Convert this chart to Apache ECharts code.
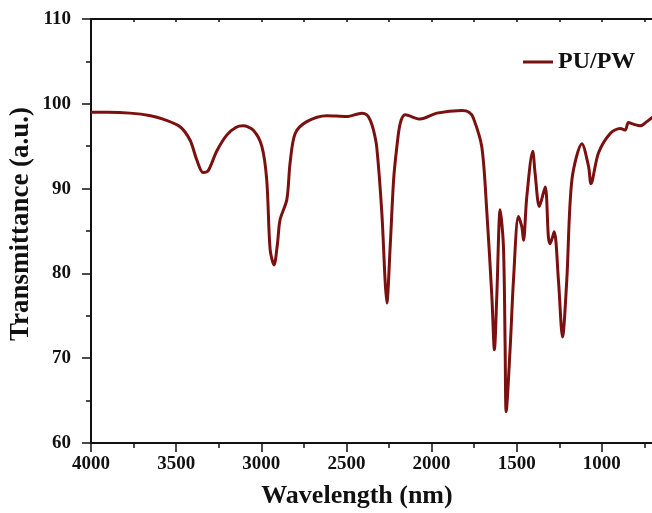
<!DOCTYPE html>
<html>
<head>
<meta charset="utf-8">
<script src="https://cdn.jsdelivr.net/npm/echarts@6/dist/echarts.min.js"></script>
<style>
  html, body { margin: 0; padding: 0; background: #fff; }
  #ftir { width: 652px; height: 513px; }
</style>
</head>
<body>
<div id="ftir"></div>
<script>
// FTIR spectrum
const wavenumber = [
  4000, 3900, 3771, 3650, 3577, 3477, 3418, 3379, 3342, 3312,
  3262, 3203, 3150, 3107, 3048, 2997, 2968, 2948, 2925, 2905,
  2890, 2850, 2831, 2801, 2733, 2616, 2498, 2410, 2380, 2361,
  2341, 2322, 2292, 2273, 2263, 2243, 2223, 2204, 2184, 2155,
  2067, 1969, 1822, 1780, 1754, 1705, 1675, 1646, 1631, 1617,
  1597, 1578, 1568, 1562, 1538, 1519, 1490, 1470, 1460, 1441,
  1406, 1392, 1367, 1333, 1314, 1304, 1280, 1255, 1231, 1206,
  1176, 1117, 1078, 1064, 1020, 951, 892, 863, 844, 815,
  775, 736, 704, 680
];
const transmittance = [
  99.0, 99.0, 98.9, 98.6, 98.2, 97.3, 95.7, 93.4, 91.9, 92.1,
  94.4, 96.3, 97.2, 97.4, 96.9, 95.0, 91.0, 82.8, 81.0, 83.5,
  86.3, 88.7, 93.0, 96.5, 97.9, 98.6, 98.5, 98.9, 98.7, 98.1,
  96.9, 94.9, 87.1, 79.2, 76.5, 83.2, 91.0, 94.9, 97.7, 98.7,
  98.2, 98.9, 99.2, 99.0, 98.3, 94.9, 87.1, 77.3, 71.0, 77.3,
  87.5, 83.2, 71.4, 63.7, 71.4, 79.2, 86.7, 85.5, 83.9, 89.0,
  94.4, 91.8, 87.9, 90.2, 84.3, 83.5, 84.9, 79.2, 72.5, 79.2,
  91.0, 95.3, 92.6, 90.6, 94.2, 96.5, 97.1, 96.9, 97.8, 97.6,
  97.4, 97.9, 98.4, 98.8
];
const seriesName = 'PU/PW';

const font = 'Liberation Serif';
const points = wavenumber.map((w, i) => [w, transmittance[i]]);

const chart = echarts.init(document.getElementById('ftir'));

const tickStyle = { color: '#111', width: 1.5 };
chart.setOption({
  backgroundColor: '#fff',
  animation: false,
  // right edge runs past the canvas: the picture is cut at ~700
  grid: { left: 91, right: -35, top: 19, bottom: 70, outerBoundsMode: 'none', containLabel: false },
  legend: {
    data: [{ name: seriesName, icon: 'rect' }],
    left: 518,
    top: 45,
    itemWidth: 30,
    itemHeight: 3,
    itemStyle: { color: '#7a1010' },
    textStyle: { fontFamily: font, fontWeight: 'bold', fontSize: 24, color: '#111' }
  },
  xAxis: [{
    type: 'value',
    inverse: true,
    min: 500,
    max: 4000,
    interval: 500,
    name: 'Wavelength (nm)',
    nameLocation: 'middle',
    nameGap: 40,
    nameTextStyle: { fontFamily: font, fontWeight: 'bold', fontSize: 26, color: '#111', padding: [0, 64, 0, 0] },
    axisLine: { show: true, onZero: false, lineStyle: { color: '#111', width: 2 } },
    axisTick: { show: true, inside: false, length: 9, lineStyle: tickStyle },
    minorTick: { show: true, splitNumber: 2, length: 5, lineStyle: tickStyle },
    axisLabel: { fontFamily: font, fontWeight: 'bold', fontSize: 19, color: '#111', margin: 12, formatter: v => String(v) },
    splitLine: { show: false }
  }, {
    type: 'value',
    position: 'top',
    inverse: true,
    min: 500,
    max: 4000,
    interval: 500,
    axisLine: { show: true, onZero: false, lineStyle: { color: '#111', width: 2 } },
    axisTick: { show: true, inside: true, length: 3, lineStyle: tickStyle },
    minorTick: { show: true, splitNumber: 2, length: 3, lineStyle: tickStyle },
    axisLabel: { show: false },
    splitLine: { show: false }
  }],
  yAxis: {
    type: 'value',
    min: 60,
    max: 110,
    interval: 10,
    name: 'Transmittance (a.u.)',
    nameLocation: 'middle',
    nameGap: 56,
    nameMoveOverlap: false,
    nameTextStyle: { fontFamily: font, fontWeight: 'bold', fontSize: 27, color: '#111', padding: [0, 0, 0, 14] },
    axisLine: { show: true, onZero: false, lineStyle: { color: '#111', width: 2 } },
    axisTick: { show: true, inside: false, length: 9, lineStyle: tickStyle },
    minorTick: { show: true, splitNumber: 2, length: 5, lineStyle: tickStyle },
    axisLabel: { fontFamily: font, fontWeight: 'bold', fontSize: 19, color: '#111', margin: 20 },
    splitLine: { show: false }
  },
  series: [{
    name: seriesName,
    type: 'line',
    data: points,
    symbol: 'none',
    smooth: 0.3,
    clip: true,
    color: '#7a1010',
    lineStyle: { color: '#7a1010', width: 3 }
  }]
});

window.addEventListener('resize', function() {
  chart.resize();
});
</script>
</body>
</html>
